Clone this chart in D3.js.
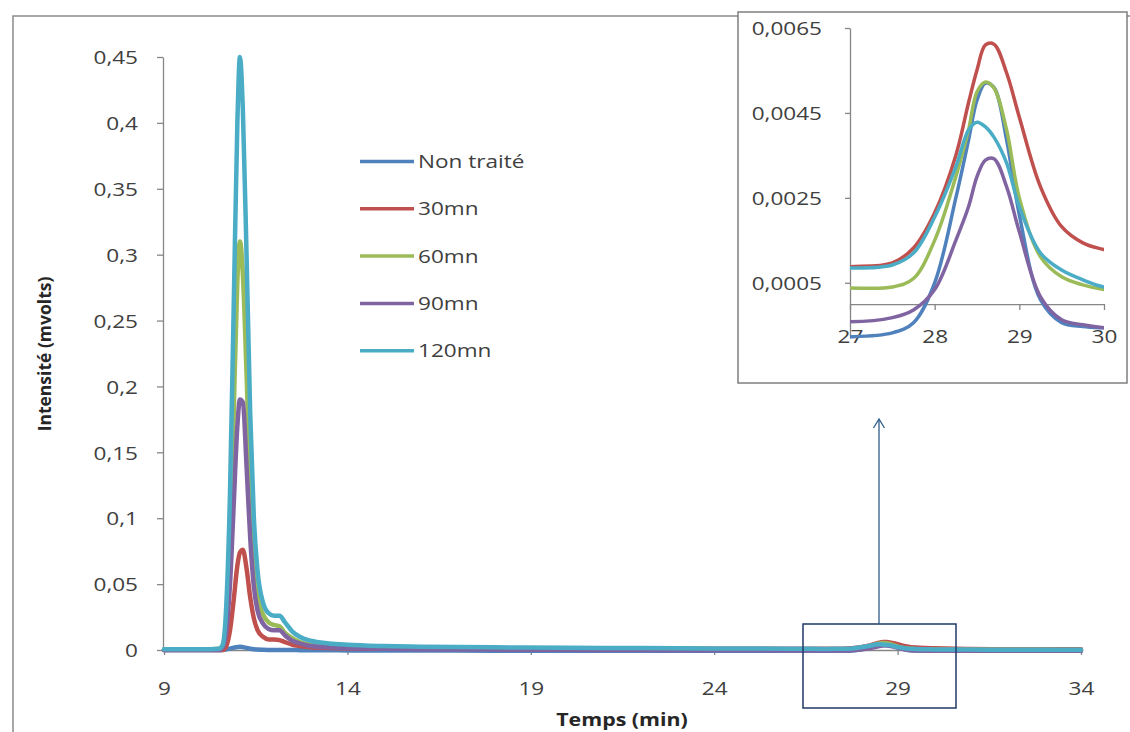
<!DOCTYPE html>
<html>
<head>
<meta charset="utf-8">
<script src="https://cdn.jsdelivr.net/npm/d3@7"></script>
<style>
  body { margin: 0; background: #fff; }
  svg { display: block; }
</style>
</head>
<body>
<svg id="chart" width="1130" height="732"></svg>
<script>
// ---------------- DATA ----------------
const seriesNames = ["Non traité", "30mn", "60mn", "90mn", "120mn"];
const seriesColors = ["#4F81BD", "#C0504D", "#9BBB59", "#8064A2", "#4BACC6"];

const times = [9, 10, 10.5, 10.6, 10.7, 10.8, 10.9, 11.0, 11.07, 11.15,
  11.25, 11.35, 11.45, 11.55, 11.7, 11.85, 12.0, 12.15, 12.3, 12.5,
  12.7, 13, 13.5, 14, 15, 16, 18, 20, 22, 24,
  26, 27, 27.5, 27.75, 28, 28.25, 28.4, 28.5, 28.6, 28.7,
  28.85, 29, 29.25, 29.5, 29.75, 30, 31, 32, 33, 34];

const nonTraite = [0, 0, 0, 0, 0.0005, 0.001, 0.0018, 0.0022, 0.0025, 0.0022,
  0.0016, 0.001, 0.0006, 0.0003, 0.0001, 0, 0, 0, 0, 0,
  -0.0001, -0.0002, -0.0002, -0.0003, -0.0003, -0.0004, -0.0005, -0.0005, -0.0006, -0.0007,
  -0.0007, -0.00077, -0.00068, -0.00044, 0.0005, 0.0025, 0.00386, 0.0048, 0.0052, 0.0051,
  0.00386, 0.0021, 0.0001, -0.00044, -0.00053, -0.00056, -0.0006, -0.0006, -0.0006, -0.0006];

const mn30 = [0, 0, 0, 0, 0.003, 0.015, 0.038, 0.064, 0.074, 0.076,
  0.062, 0.04, 0.024, 0.015, 0.01, 0.008, 0.008, 0.0075, 0.006, 0.004,
  0.003, 0.002, 0.0015, 0.0012, 0.001, 0.001, 0.001, 0.001, 0.001, 0.0009,
  0.0009, 0.00088, 0.00097, 0.00132, 0.00215, 0.0035, 0.00474, 0.00551, 0.0061, 0.00612,
  0.00544, 0.0044, 0.00276, 0.00182, 0.00144, 0.00128, 0.0008, 0.0006, 0.0005, 0.0005];

const mn60 = [0.0003, 0.0003, 0.001, 0.003, 0.025, 0.085, 0.18, 0.28, 0.31, 0.285,
  0.21, 0.125, 0.07, 0.042, 0.027, 0.021, 0.019, 0.018, 0.013, 0.009,
  0.006, 0.004, 0.003, 0.0025, 0.002, 0.0015, 0.0012, 0.001, 0.0008, 0.0006,
  0.0005, 0.00038, 0.0004, 0.0006, 0.0015, 0.003, 0.0041, 0.005, 0.00523, 0.00509,
  0.0041, 0.0025, 0.00111, 0.00064, 0.00045, 0.00034, 0.0002, 0.0001, 0.0001, 0.0];

const mn90 = [0, 0, 0, 0.002, 0.015, 0.05, 0.11, 0.17, 0.19, 0.188,
  0.14, 0.085, 0.048, 0.03, 0.02, 0.016, 0.015, 0.015, 0.011, 0.007,
  0.005, 0.003, 0.002, 0.0015, 0.001, 0.0006, 0.0003, 0.0001, 0, -0.0002,
  -0.0003, -0.00042, -0.00032, -0.00014, 0.00034, 0.0015, 0.00229, 0.003, 0.00339, 0.00342,
  0.00276, 0.0017, 0.00017, -0.00037, -0.00049, -0.00056, -0.0006, -0.0006, -0.0006, -0.0006];

const mn120 = [0.0005, 0.0005, 0.001, 0.004, 0.035, 0.12, 0.26, 0.40, 0.45, 0.41,
  0.30, 0.18, 0.10, 0.06, 0.036, 0.028, 0.026, 0.026, 0.021, 0.014,
  0.010, 0.007, 0.005, 0.004, 0.003, 0.0025, 0.002, 0.0017, 0.0015, 0.0012,
  0.001, 0.00085, 0.00092, 0.0012, 0.00205, 0.00323, 0.0041, 0.00428, 0.00417, 0.00393,
  0.00332, 0.00229, 0.0012, 0.0008, 0.00057, 0.0004, 0.0003, 0.0002, 0.0001, 0.0001];

const seriesValues = [nonTraite, mn30, mn60, mn90, mn120];

const mainYTicks = [0, 0.05, 0.1, 0.15, 0.2, 0.25, 0.3, 0.35, 0.4, 0.45];
const mainXTicks = [9, 14, 19, 24, 29, 34];
const insetYTicks = [0.0005, 0.0025, 0.0045, 0.0065];
const insetXTicks = [27, 28, 29, 30];

const xTitle = "Temps (min)";
const yTitle = "Intensité (mvolts)";

// ---------------- DRAWING ----------------
const SX = 1.22; // horizontal text stretch
const FONT = "'Open Sans', 'DejaVu Sans', sans-serif";
const AXIS_COL = "#868686";
const TXT_COL = "#404040";

const svg = d3.select("#chart");
const commaFmt = (d) => String(+d.toFixed(4)).replace(".", ",");

const series = seriesNames.map((name, i) => ({
  name, color: seriesColors[i],
  points: times.map((t, j) => ({ t, v: seriesValues[i][j] }))
}));

function stretch(sel) {
  sel.each(function () {
    const t = d3.select(this);
    const x = +t.attr("x") || 0;
    t.attr("x", x / SX).attr("transform", `scale(${SX},1)`);
  });
}

// outer border
svg.append("rect").attr("x", 13).attr("y", 16).attr("width", 1300).attr("height", 900)
  .attr("fill", "none").attr("stroke", "#8a8a8a").attr("stroke-width", 1.5);

// main scales
const x = d3.scaleLinear().domain([9, 34]).range([164, 1081]);
const y = d3.scaleLinear().domain([0, 0.45]).range([650, 57]);

svg.append("defs").append("clipPath").attr("id", "mainClip")
  .append("rect").attr("x", 160).attr("y", 40).attr("width", 930).attr("height", 613);

// axes
const yAxis = svg.append("g").attr("transform", `translate(${x(9) - 1},0)`)
  .call(d3.axisLeft(y).tickValues(mainYTicks).tickSize(6).tickSizeOuter(0).tickPadding(19).tickFormat(commaFmt));
const xAxis = svg.append("g").attr("transform", `translate(0,${y(0)})`)
  .call(d3.axisBottom(x).tickValues(mainXTicks).tickSize(5).tickSizeOuter(0).tickPadding(27).tickFormat(d => String(d)));

[yAxis, xAxis].forEach(g => {
  g.selectAll("path, line").attr("stroke", AXIS_COL).attr("stroke-width", 1.3);
  g.selectAll("text").attr("font-family", FONT).attr("font-size", 18.5).attr("fill", TXT_COL).call(stretch);
});
yAxis.selectAll("text").attr("dy", "0.36em");

// lines
const line = d3.line().x(d => x(d.t)).y(d => y(d.v)).curve(d3.curveMonotoneX);
svg.append("g").attr("clip-path", "url(#mainClip)")
  .selectAll("path").data(series).join("path")
  .attr("d", d => line(d.points))
  .attr("fill", "none").attr("stroke", d => d.color).attr("stroke-width", 4.5)
  .attr("stroke-linejoin", "round").attr("stroke-linecap", "round");

// axis titles
svg.append("text").attr("x", 622 / SX).attr("y", 726).attr("transform", `scale(${SX},1)`)
  .attr("text-anchor", "middle").attr("font-family", FONT).attr("font-weight", "bold")
  .attr("font-size", 17.5).attr("fill", "#262626").text(xTitle);
svg.append("text").attr("transform", "translate(51,354) rotate(-90)")
  .attr("text-anchor", "middle").attr("font-family", FONT).attr("font-weight", "bold")
  .attr("font-size", 17.5).attr("fill", "#262626").text(yTitle);

// legend
const legend = svg.append("g");
series.forEach((s, i) => {
  const ly = 161.5 + i * 47.3;
  legend.append("line").attr("x1", 360).attr("x2", 414).attr("y1", ly).attr("y2", ly)
    .attr("stroke", s.color).attr("stroke-width", 3.5);
  legend.append("text").attr("x", 418 / SX).attr("y", ly + 6.5).attr("transform", `scale(${SX},1)`)
    .attr("font-family", FONT).attr("font-size", 18.5).attr("fill", TXT_COL).text(s.name);
});

// zoom rectangle and arrow on main chart
svg.append("rect").attr("x", 803).attr("y", 624).attr("width", 153).attr("height", 84)
  .attr("fill", "none").attr("stroke", "#1F3864").attr("stroke-width", 1.5);
svg.append("line").attr("x1", 879).attr("x2", 879).attr("y1", 624).attr("y2", 420)
  .attr("stroke", "#2E5C8A").attr("stroke-width", 1.3);
svg.append("path").attr("d", "M873.5,428 L879,419 L884.5,428")
  .attr("fill", "none").attr("stroke", "#2E5C8A").attr("stroke-width", 1.3);

// ---------------- INSET ----------------
const inset = svg.append("g");
inset.append("rect").attr("x", 738).attr("y", 12).attr("width", 389).attr("height", 371)
  .attr("fill", "#fff").attr("stroke", "#7f7f7f").attr("stroke-width", 1.5);

const xi = d3.scaleLinear().domain([27, 30]).range([850, 1104]);
const yi = d3.scaleLinear().domain([-0.0008, 0.0065]).range([338, 28]);

svg.select("defs").append("clipPath").attr("id", "insetClip")
  .append("rect").attr("x", 850).attr("y", 15).attr("width", 254).attr("height", 335);

const yiAxis = inset.append("g").attr("transform", `translate(${xi(27)},0)`)
  .call(d3.axisLeft(yi).tickValues(insetYTicks).tickSize(5).tickSizeOuter(0).tickPadding(23).tickFormat(commaFmt));
const xiAxis = inset.append("g").attr("transform", `translate(0,${yi(0)})`)
  .call(d3.axisBottom(xi).tickValues(insetXTicks).tickSize(6).tickSizeOuter(0).tickPadding(20).tickFormat(d => String(d)));
[yiAxis, xiAxis].forEach(g => {
  g.selectAll("path, line").attr("stroke", AXIS_COL).attr("stroke-width", 1.3);
  g.selectAll("text").attr("font-family", FONT).attr("font-size", 18.5).attr("fill", TXT_COL).call(stretch);
});
yiAxis.selectAll("text").attr("dy", "0.36em");

const lineI = d3.line().x(d => xi(d.t)).y(d => yi(d.v)).curve(d3.curveCatmullRom.alpha(0.5));
inset.append("g").attr("clip-path", "url(#insetClip)")
  .selectAll("path").data(series).join("path")
  .attr("d", d => lineI(d.points.filter(p => p.t >= 26 && p.t <= 31)))
  .attr("fill", "none").attr("stroke", d => d.color).attr("stroke-width", 3.5)
  .attr("stroke-linejoin", "round");
</script>
</body>
</html>
